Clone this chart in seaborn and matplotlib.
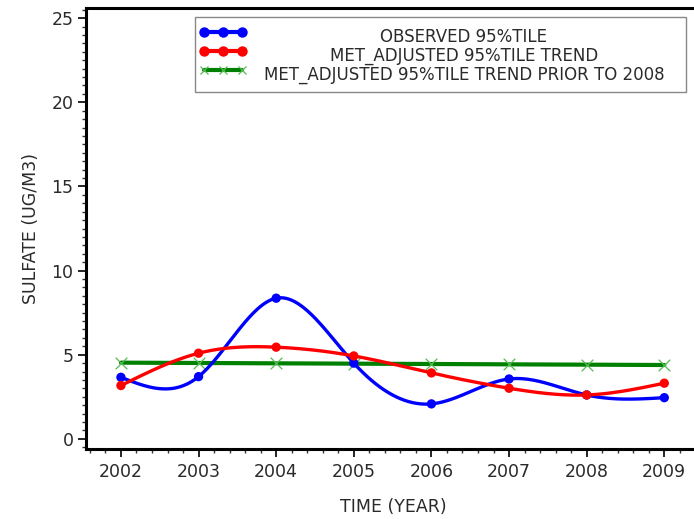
import numpy as np
import pandas as pd
import matplotlib
matplotlib.use("Agg")
import matplotlib.pyplot as plt
import seaborn as sns
from matplotlib.patches import Rectangle
from matplotlib.ticker import MultipleLocator

# Yearly values of sulfate (ug/m3)
years = [2002, 2003, 2004, 2005, 2006, 2007, 2008, 2009]
observed = [3.66, 3.70, 8.36, 4.50, 2.08, 3.56, 2.61, 2.45]
met_adjusted = [3.17, 5.09, 5.45, 4.93, 3.92, 3.01, 2.61, 3.31]
met_prior_2008 = [4.53, 4.51, 4.49, 4.47, 4.45, 4.43, 4.41, 4.39]

series_names = [
    "OBSERVED 95%TILE",
    "MET_ADJUSTED 95%TILE TREND",
    "MET_ADJUSTED 95%TILE TREND PRIOR TO 2008",
]
x_ticks = years
y_ticks = [0, 5, 10, 15, 20, 25]

BLUE, RED, GREEN = "#0000ff", "#ff0000", "#008000"
TEXT = "#2a2a2a"
FS = 12.5


def natural_spline(x, y, xs):
    """Natural cubic spline through (x, y), evaluated at xs."""
    x = np.asarray(x, float)
    y = np.asarray(y, float)
    n = len(x)
    h = np.diff(x)
    A = np.zeros((n, n))
    b = np.zeros(n)
    A[0, 0] = A[-1, -1] = 1.0
    for i in range(1, n - 1):
        A[i, i - 1] = h[i - 1]
        A[i, i] = 2 * (h[i - 1] + h[i])
        A[i, i + 1] = h[i]
        b[i] = 6 * ((y[i + 1] - y[i]) / h[i] - (y[i] - y[i - 1]) / h[i - 1])
    m = np.linalg.solve(A, b)
    idx = np.clip(np.searchsorted(x, xs) - 1, 0, n - 2)
    x0, x1 = x[idx], x[idx + 1]
    hh = x1 - x0
    t0, t1 = x1 - xs, xs - x0
    return (m[idx] * t0 ** 3 / (6 * hh) + m[idx + 1] * t1 ** 3 / (6 * hh)
            + (y[idx] / hh - m[idx] * hh / 6) * t0
            + (y[idx + 1] / hh - m[idx + 1] * hh / 6) * t1)


sns.set_style("white")
plt.rcParams["font.family"] = ["DejaVu Sans"]

W, H = 694, 519
fig = plt.figure(figsize=(W / 100, H / 100), dpi=100)
ax_left, ax_right, ax_top, ax_bottom = 86, 700, 8, 449
ax = fig.add_axes([ax_left / W, 1 - ax_bottom / H,
                   (ax_right - ax_left) / W, (ax_bottom - ax_top) / H])

xs = np.linspace(years[0], years[-1], 400)
curves = pd.DataFrame({
    "year": np.concatenate([xs, xs]),
    "value": np.concatenate([natural_spline(years, observed, xs),
                             natural_spline(years, met_adjusted, xs)]),
    "series": [series_names[0]] * len(xs) + [series_names[1]] * len(xs),
})
points = pd.DataFrame({
    "year": years * 2,
    "value": observed + met_adjusted,
    "series": [series_names[0]] * len(years) + [series_names[1]] * len(years),
})
prior = pd.DataFrame({"year": years, "value": met_prior_2008})

palette = {series_names[0]: BLUE, series_names[1]: RED}
sns.lineplot(data=prior, x="year", y="value", color=GREEN, lw=3.0,
             ax=ax, legend=False, zorder=2)
sns.scatterplot(data=prior, x="year", y="value", marker="x", color="#55bb55",
                s=70, linewidth=0.9, ax=ax, legend=False, zorder=3)
sns.lineplot(data=curves, x="year", y="value", hue="series", palette=palette,
             lw=2.4, estimator=None, sort=True, ax=ax, legend=False, zorder=4)
sns.scatterplot(data=points, x="year", y="value", hue="series", palette=palette,
                s=45, edgecolor="none", ax=ax, legend=False, zorder=5)

ax.set_xlim(2001.55, 2009.46)
ax.set_ylim(-0.6, 25.6)
ax.set_xticks(x_ticks)
ax.set_xticklabels([str(v) for v in x_ticks])
ax.set_yticks(y_ticks)
ax.set_yticklabels([str(v) for v in y_ticks])
ax.xaxis.set_minor_locator(MultipleLocator(0.2))
ax.yaxis.set_minor_locator(MultipleLocator(0.5))
ax.tick_params(axis="both", which="major", direction="out", length=6,
               width=1.2, color="black", labelsize=FS, labelcolor=TEXT,
               bottom=True, left=True)
ax.tick_params(axis="x", which="major", pad=4)
ax.tick_params(axis="y", which="major", pad=3)
ax.tick_params(axis="both", which="minor", direction="out", length=3,
               width=1.0, color="#333333", bottom=True, left=True)

for side in ["left", "bottom", "top"]:
    ax.spines[side].set_visible(True)
    ax.spines[side].set_color("black")
    ax.spines[side].set_linewidth(2.2)
ax.spines["right"].set_visible(False)

ax.set_xlabel("TIME (YEAR)", fontsize=FS, color=TEXT, labelpad=12)
ax.set_ylabel("SULFATE (UG/M3)", fontsize=FS, color=TEXT, labelpad=8)

# Legend box drawn in figure pixel coordinates
def fx(px):
    return px / W


def fy(py):
    return 1 - py / H


fig.patches.append(Rectangle((fx(195), fy(92)), fx(686) - fx(195), fy(17) - fy(92),
                             transform=fig.transFigure, facecolor="white",
                             edgecolor="#888888", linewidth=1.0, zorder=10))
rows = [32, 51, 70]
styles = [(BLUE, "o", 3.0, 7.5), (RED, "o", 3.0, 7.5), (GREEN, "x", 3.0, 6)]
for name, py, (c, mk, lw, ms) in zip(series_names, rows, styles):
    hx = [fx(204), fx(223), fx(242)]
    line = plt.Line2D(hx, [fy(py)] * 3, transform=fig.transFigure, color=c,
                      lw=lw, zorder=11)
    fig.add_artist(line)
    if mk == "o":
        mline = plt.Line2D(hx, [fy(py)] * 3, transform=fig.transFigure, ls="none",
                           marker="o", ms=ms, color=c, mec="none", zorder=12)
    else:
        mline = plt.Line2D(hx, [fy(py)] * 3, transform=fig.transFigure, ls="none",
                           marker="x", ms=ms, color="#55bb55", mew=0.9, zorder=12)
    fig.add_artist(mline)
    fig.text(fx(464), fy(py + 5), name, ha="center", va="center", fontsize=12,
             color=TEXT, zorder=13)

fig.savefig("out.png", dpi=100)
